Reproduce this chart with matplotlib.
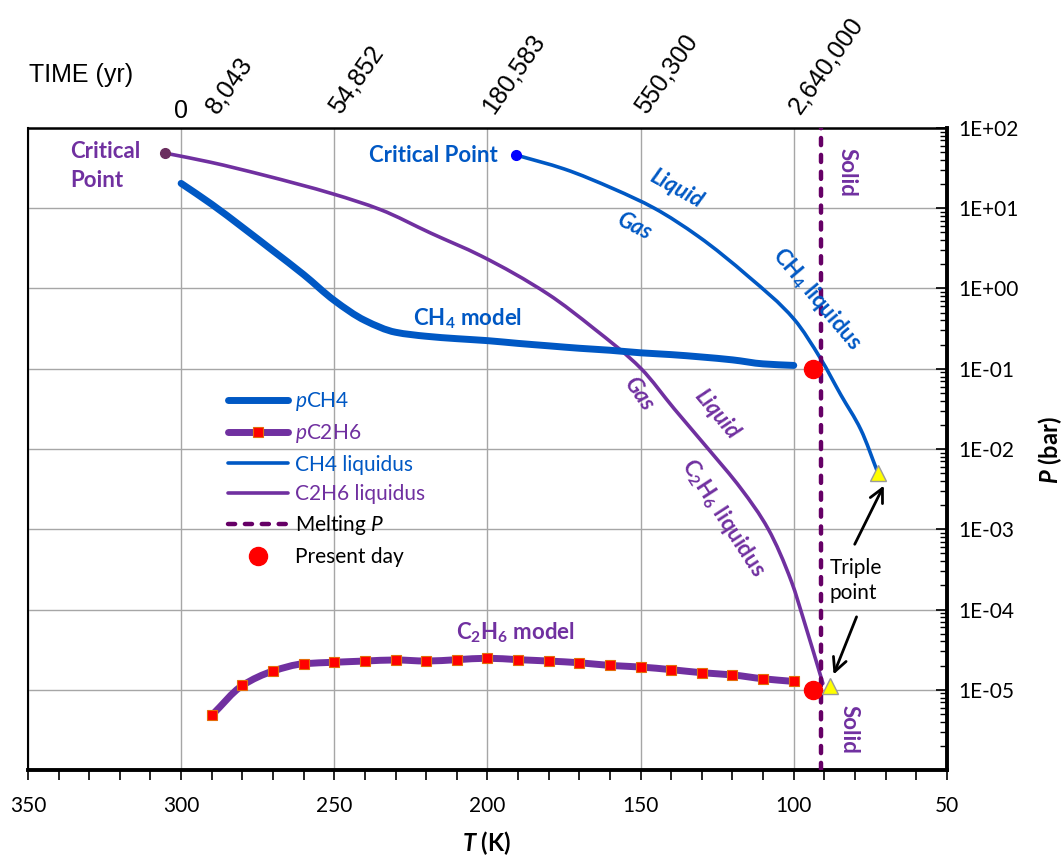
import numpy as np
import matplotlib.pyplot as plt
from matplotlib.lines import Line2D
from matplotlib.path import Path
from matplotlib.patches import PathPatch
from matplotlib.ticker import FixedLocator, LogLocator, FuncFormatter, MultipleLocator, NullFormatter

plt.rcParams['font.family'] = ['Lato', 'DejaVu Sans']
plt.rcParams['mathtext.fontset'] = 'custom'
plt.rcParams['mathtext.rm'] = 'Lato'
plt.rcParams['mathtext.it'] = 'Lato:italic'
plt.rcParams['mathtext.bf'] = 'Lato:bold'
plt.rcParams['mathtext.bfit'] = 'Lato:bold:italic'

BLUE = '#0058C4'
PURPLE = '#7030A0'
MELT = '#660066'

# Modelled atmospheric partial pressure of CH4 (bar) against surface temperature (K)
ch4_T = [300, 290, 280, 270, 260, 250, 240, 230, 220, 210, 200,
         190, 180, 170, 160, 150, 140, 130, 120, 110, 100]
ch4_P = [20.4, 11.2, 5.8, 2.95, 1.49, 0.71, 0.40, 0.285, 0.254, 0.237, 0.224,
         0.207, 0.193, 0.180, 0.170, 0.158, 0.150, 0.140, 0.129, 0.115, 0.110]

# Modelled partial pressure of C2H6 (bar)
c2h6_T = [290, 280, 270, 260, 250, 240, 230, 220, 210, 200,
          190, 180, 170, 160, 150, 140, 130, 120, 110, 100]
c2h6_P = [4.8e-6, 1.13e-5, 1.71e-5, 2.11e-5, 2.20e-5, 2.28e-5, 2.35e-5, 2.28e-5, 2.37e-5, 2.47e-5,
          2.37e-5, 2.28e-5, 2.17e-5, 2.01e-5, 1.92e-5, 1.78e-5, 1.63e-5, 1.53e-5, 1.37e-5, 1.27e-5]

# Liquidus curves (critical point down to triple point)
ch4_liq_T = [190.6, 175.0, 158.6, 145.5, 131.2, 114.8, 99.8, 91.2, 84.6, 78.1, 72.5]
ch4_liq_P = [46.0, 30.9, 17.3, 10.0, 4.47, 1.41, 0.41, 0.133, 0.047, 0.0174, 0.005]
c2h6_liq_T = [305.3, 290.5, 273.1, 250.2, 234.9, 218.5, 202.1, 180.2, 165.2, 149.8,
              139.0, 127.9, 117.1, 108.3, 100.7, 96.5, 90.5]
c2h6_liq_P = [48.7, 37.5, 25.9, 15.0, 9.6, 4.9, 2.55, 0.85, 0.316, 0.1,
              0.0316, 0.01, 3.16e-3, 1.0e-3, 2.2e-4, 6.9e-5, 1.2e-5]

crit_T = [305.3, 190.6]
crit_P = [48.7, 46.0]
triple_T = [72.5, 88.3]
triple_P = [5.0e-3, 1.1e-5]
present_T = [93.7, 93.7]
present_P = [0.1, 1.0e-5]
T_melt = 91.0

# Elapsed time (yr) reached at each temperature, for the top axis
time_T = [300, 290, 250, 200, 150, 100]
time_labels = ['0', '8,043', '54,852', '180,583', '550,300', '2,640,000']


def smooth_path(T, P):
    # Bezier path through the points, monotone (PCHIP) tangents in T / log P space
    x = np.asarray(T, float)
    y = np.log10(P)
    h = np.diff(x)
    d = np.diff(y) / h
    m = np.empty_like(y)
    m[0], m[-1] = d[0], d[-1]
    for i in range(1, len(x) - 1):
        if d[i - 1] * d[i] <= 0:
            m[i] = 0.0
        else:
            w1 = 2 * h[i] + h[i - 1]
            w2 = h[i] + 2 * h[i - 1]
            m[i] = (w1 + w2) / (w1 / d[i - 1] + w2 / d[i])
    verts = [(x[0], y[0])]
    codes = [Path.MOVETO]
    for i in range(len(x) - 1):
        verts += [(x[i] + h[i] / 3, y[i] + m[i] * h[i] / 3),
                  (x[i + 1] - h[i] / 3, y[i + 1] - m[i + 1] * h[i] / 3),
                  (x[i + 1], y[i + 1])]
        codes += [Path.CURVE4] * 3
    verts = np.array(verts)
    verts[:, 1] = 10 ** verts[:, 1]
    return Path(verts, codes)


def add_curve(ax, T, P, color, lw, z):
    patch = PathPatch(smooth_path(T, P), fill=False, edgecolor=color, lw=lw,
                      capstyle='round', joinstyle='round', zorder=z)
    ax.add_patch(patch)


fig = plt.figure(figsize=(10.63, 8.59), dpi=100)
ax = fig.add_axes([0.0263, 0.1036, 0.8645, 0.7474])
ax.set_yscale('log')
ax.set_xlim(350, 50)
ax.set_ylim(1e-6, 1e2)

add_curve(ax, ch4_liq_T, ch4_liq_P, BLUE, 2.6, 3)
add_curve(ax, c2h6_liq_T, c2h6_liq_P, PURPLE, 2.6, 3)
add_curve(ax, ch4_T, ch4_P, BLUE, 5, 4)
add_curve(ax, c2h6_T, c2h6_P, PURPLE, 5, 4)
ax.plot(c2h6_T, c2h6_P, ls='none', marker='s', ms=7, mfc='#FF0000', mec='#E46C0A', mew=0.8, zorder=5)
ax.axvline(T_melt, color=MELT, lw=3.2, dashes=(1.6, 2.2), dash_capstyle='round', zorder=5)
ax.plot(crit_T[:1], crit_P[:1], 'o', color='#6B2E5F', ms=7, zorder=6)
ax.plot(crit_T[1:], crit_P[1:], 'o', color='#0000FF', ms=7, zorder=6)
ax.plot(present_T, present_P, 'o', ls='none', color='#FF0000', ms=13, zorder=6)
ax.plot(triple_T, triple_P, '^', ls='none', mfc='#FFFF00', mec='#9A9A9A', mew=1, ms=12, zorder=7)

# axes frame and ticks
ax.xaxis.set_major_locator(MultipleLocator(50))
ax.xaxis.set_minor_locator(MultipleLocator(10))
ax.yaxis.set_major_locator(FixedLocator(10.0 ** np.arange(-6, 3)))
ax.yaxis.set_minor_locator(LogLocator(base=10, subs=np.arange(2, 10), numticks=60))
ax.yaxis.set_minor_formatter(NullFormatter())


def exp_fmt(v, pos):
    e = int(round(np.log10(v)))
    if e < -5:
        return ''
    return f'1E{e:+03d}'


ax.yaxis.set_major_formatter(FuncFormatter(exp_fmt))
ax.yaxis.tick_right()
ax.tick_params(axis='y', which='both', direction='in', left=False, right=True,
               labelleft=False, labelright=True, labelsize=15, pad=8)
ax.tick_params(axis='y', which='major', length=8, width=1.2)
ax.tick_params(axis='y', which='minor', length=5, width=1.0)
ax.tick_params(axis='x', which='both', direction='out', top=False, bottom=True,
               length=7, width=1.2, labelsize=15, pad=12)
ax.grid(True, which='major', color='#A6A6A6', lw=1.0)
ax.set_axisbelow(True)
for side, w in [('left', 1.5), ('top', 1.8), ('right', 2.8), ('bottom', 2.8)]:
    ax.spines[side].set_linewidth(w)
    ax.spines[side].set_color('black')

# top time axis
sec = ax.secondary_xaxis('top')
sec.spines['top'].set_visible(False)
sec.set_xticks(time_T, labels=time_labels)
sec.set_xticks([290], minor=True)
sec.tick_params(axis='x', which='major', length=0, pad=12)
sec.tick_params(axis='x', which='minor', direction='in', length=19, width=1.2, color='black')
for lab in sec.get_xticklabels():
    lab.set_fontfamily('Liberation Sans')
    lab.set_fontsize(18)
    lab.set_rotation_mode('anchor')
    lab.set_va('center')
    if lab.get_text() == '0':
        lab.set_ha('center')
    else:
        lab.set_rotation(55)
        lab.set_ha('left')

fig.text(0.027, 0.913, 'TIME (yr)', family='Liberation Sans', fontsize=18, ha='left', va='center')
fig.text(0.458, 0.019, r'$\mathbfit{T}$ (K)', fontsize=17, fontweight='bold', ha='center', va='center')
fig.text(0.988, 0.476, r'$\mathbfit{P}$ (bar)', fontsize=17, fontweight='bold', rotation=90,
         ha='center', va='center')

# labels on the curves
lab_kw = dict(fontsize=16, fontweight='bold', zorder=8)
ax.text(336.3, 33.5, 'Critical\nPoint', color=PURPLE, ha='left', va='center', linespacing=1.45, **lab_kw)
ax.text(196.6, 46.0, 'Critical Point', color=BLUE, ha='right', va='center', **lab_kw)
ax.text(138.3, 17.4, 'Liquid', color=BLUE, style='italic', rotation=-29, ha='center', va='center', **lab_kw)
ax.text(152.1, 5.96, 'Gas', color=BLUE, style='italic', rotation=-27, ha='center', va='center', **lab_kw)
ax.text(92.5, 0.75, r'CH$_\mathbf{4}$ liquidus', color=BLUE, rotation=-50, ha='center', va='center', **lab_kw)
ax.text(206.4, 0.42, r'CH$_\mathbf{4}$ model', color=BLUE, ha='center', va='center', **lab_kw)
ax.text(150.5, 0.049, 'Gas', color=PURPLE, style='italic', rotation=-55, ha='center', va='center', **lab_kw)
ax.text(125.3, 0.0275, 'Liquid', color=PURPLE, style='italic', rotation=-50, ha='center', va='center', **lab_kw)
ax.text(123.1, 1.38e-3, r'C$_\mathbf{2}$H$_\mathbf{6}$ liquidus', color=PURPLE, rotation=-57,
        ha='center', va='center', **lab_kw)
ax.text(190.7, 5.1e-5, r'C$_\mathbf{2}$H$_\mathbf{6}$ model', color=PURPLE, ha='center', va='center', **lab_kw)
ax.text(82.7, 28.0, 'Solid', color=PURPLE, rotation=-90, ha='center', va='center', **lab_kw)
ax.text(81.8, 3.2e-6, 'Solid', color=PURPLE, rotation=-90, ha='center', va='center', **lab_kw)
ax.text(88.3, 2.3e-4, 'Triple\npoint', color='black', fontsize=15, ha='left', va='center',
        linespacing=1.35, zorder=8)

arrow_kw = dict(arrowstyle='->,head_length=0.7,head_width=0.35', color='black', lw=2,
                mutation_scale=14, shrinkA=0, shrinkB=0)
ax.annotate('', xy=(70.6, 3.5e-3), xytext=(80.1, 6.5e-4), arrowprops=arrow_kw, zorder=8)
ax.annotate('', xy=(87.0, 1.55e-5), xytext=(79.5, 8.1e-5), arrowprops=arrow_kw, zorder=8)

# legend
handles = [
    Line2D([], [], color=BLUE, lw=5, solid_capstyle='round'),
    Line2D([], [], color=PURPLE, lw=5, solid_capstyle='round', marker='s', ms=7,
           mfc='#FF0000', mec='#E46C0A', mew=0.8),
    Line2D([], [], color=BLUE, lw=2.6, solid_capstyle='round'),
    Line2D([], [], color=PURPLE, lw=2.6, solid_capstyle='round'),
    Line2D([], [], color=MELT, lw=3.2, dashes=(1.6, 2.2), dash_capstyle='round'),
    Line2D([], [], ls='none', marker='o', color='#FF0000', ms=13),
]
labels = ['$p$CH4', '$p$C2H6', 'CH4 liquidus', 'C2H6 liquidus', 'Melting $P$', 'Present day']
leg = ax.legend(handles, labels, loc='upper left', bbox_to_anchor=(0.2145, 0.546),
                bbox_transform=fig.transFigure, frameon=False, fontsize=15, numpoints=1,
                handlelength=2.9, handletextpad=0.3, labelspacing=0.45, borderpad=0, borderaxespad=0)
for txt, c in zip(leg.get_texts(), [BLUE, PURPLE, BLUE, PURPLE, 'black', 'black']):
    txt.set_color(c)

fig.savefig('out.png', dpi=100)
